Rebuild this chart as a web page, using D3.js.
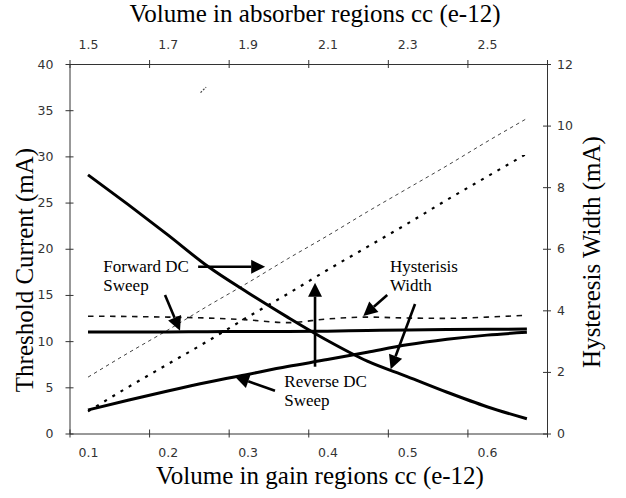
<!DOCTYPE html>
<html>
<head>
<meta charset="utf-8">
<script src="https://d3js.org/d3.v7.min.js"></script>
<style>
  body { margin: 0; background: #fff; }
  svg { display: block; }
  .tick text { font-family: "DejaVu Sans", sans-serif; font-size: 12.5px; fill: #333; }
  .title { font-family: "Liberation Serif", "Times New Roman", serif; font-size: 25px; fill: #000; }
  .note { font-family: "Liberation Serif", "Times New Roman", serif; font-size: 17px; fill: #000; }
</style>
</head>
<body>
<div id="chart"></div>
<script>
// x values: volume in gain regions, cc (e-12)
const gainVolume = [0.10, 0.15, 0.20, 0.25, 0.30, 0.35, 0.40, 0.45, 0.50, 0.55, 0.60, 0.65];

// threshold current (mA), left axis
const forwardFlat   = [10.98, 10.98, 11.00, 11.02, 11.05, 11.05, 11.08, 11.15, 11.20, 11.25, 11.28, 11.30];
const forwardRising = [6.1, 8.7, 11.2, 13.8, 16.3, 18.9, 21.4, 24.0, 26.5, 29.0, 31.6, 34.1];
const reverseSolid  = [2.55, 3.6, 4.6, 5.55, 6.4, 7.25, 8.0, 8.8, 9.6, 10.2, 10.65, 10.95];
const reverseDotted = [2.4, 5.0, 7.5, 10.0, 12.6, 15.1, 17.7, 20.2, 22.7, 25.3, 27.8, 30.3];

// hysteresis width (mA), right axis
const hystSolid  = [8.40, 7.44, 6.45, 5.43, 4.58, 3.78, 3.02, 2.35, 1.85, 1.34, 0.87, 0.48];
const hystDashed = [3.81, 3.80, 3.78, 3.75, 3.69, 3.60, 3.72, 3.78, 3.75, 3.74, 3.78, 3.84];

// small stray stroke near the top
const strayX = [0.241, 0.248];
const strayY = [36.9, 37.5];

// tick labels
const gainTicks = [0.1, 0.2, 0.3, 0.4, 0.5, 0.6];
const absorberTicks = [1.5, 1.7, 1.9, 2.1, 2.3, 2.5];
const currentTicks = [0, 5, 10, 15, 20, 25, 30, 35, 40];
const widthTicks = [0, 2, 4, 6, 8, 10, 12];

const W = 626, H = 498;
const plotLeft = 69.5, plotRight = 547, plotTop = 64, plotBottom = 433.5;

const svg = d3.select("#chart").append("svg")
  .attr("width", W)
  .attr("height", H);

const x = d3.scaleLinear().domain([0.0768, 0.6752]).range([plotLeft, plotRight]);
const xTop = d3.scaleLinear().domain([1.4536, 2.6504]).range([plotLeft, plotRight]);
const y = d3.scaleLinear().domain([0, 40]).range([plotBottom, plotTop]);
const y2 = d3.scaleLinear().domain([0, 12]).range([plotBottom, plotTop]);

// tick marks sit between the labels, evenly spread across the frame
const markX = d3.range(7).map(i => x.domain()[0] + i * (x.domain()[1] - x.domain()[0]) / 6);

function crossTicks(g, horiz) {
  g.selectAll(".tick line")
    .attr(horiz ? "y1" : "x1", -4)
    .attr(horiz ? "y2" : "x2", 4);
  g.select(".domain").attr("stroke", "#333");
  g.selectAll(".tick line").attr("stroke", "#333");
}

// bottom
svg.append("g")
  .attr("transform", `translate(0,${plotBottom})`)
  .call(d3.axisBottom(x).tickValues(markX).tickFormat("").tickSizeOuter(0))
  .call(g => crossTicks(g, true));
svg.append("g")
  .attr("transform", `translate(0,${plotBottom})`)
  .call(d3.axisBottom(x).tickValues(gainTicks).tickFormat(d3.format(".1f")).tickSize(0).tickPadding(14.8))
  .call(g => g.select(".domain").remove());

// top
svg.append("g")
  .attr("transform", `translate(0,${plotTop})`)
  .call(d3.axisTop(x).tickValues(markX).tickFormat("").tickSizeOuter(0))
  .call(g => crossTicks(g, true));
svg.append("g")
  .attr("transform", `translate(0,${plotTop})`)
  .call(d3.axisTop(xTop).tickValues(absorberTicks).tickFormat(d3.format(".1f")).tickSize(0).tickPadding(14.7))
  .call(g => g.select(".domain").remove());

// left
svg.append("g")
  .attr("transform", `translate(${plotLeft},0)`)
  .call(d3.axisLeft(y).tickValues(currentTicks).tickSizeOuter(0).tickPadding(10))
  .call(g => crossTicks(g, false));

// right
svg.append("g")
  .attr("transform", `translate(${plotRight},0)`)
  .call(d3.axisRight(y2).tickValues(widthTicks).tickSizeOuter(0).tickPadding(4))
  .call(g => crossTicks(g, false));

// axis titles
svg.append("text").attr("class", "title")
  .attr("x", 315).attr("y", 21.5).attr("text-anchor", "middle")
  .text("Volume in absorber regions cc (e-12)");
svg.append("text").attr("class", "title")
  .attr("x", 320).attr("y", 484).attr("text-anchor", "middle")
  .text("Volume in gain regions cc (e-12)");
svg.append("text").attr("class", "title")
  .attr("transform", "translate(33,270) rotate(-90)").attr("text-anchor", "middle")
  .text("Threshold Current (mA)");
svg.append("text").attr("class", "title")
  .attr("transform", "translate(600,252) rotate(-90)").attr("text-anchor", "middle")
  .text("Hysteresis Width (mA)");

// series
const series = [
  { vals: forwardRising, scale: y,  width: 1,   dash: "3.5,3.5", color: "#444" },
  { vals: reverseDotted, scale: y,  width: 2.2, dash: "3,6.5", color: "#000" },
  { vals: hystDashed,    scale: y2, width: 1.6, dash: "5.5,5.5", color: "#111" },
  { vals: forwardFlat,   scale: y,  width: 3,   dash: null, color: "#000" },
  { vals: reverseSolid,  scale: y,  width: 3,   dash: null, color: "#000" },
  { vals: hystSolid,     scale: y2, width: 3,   dash: null, color: "#000" }
];

series.forEach(s => {
  const line = d3.line()
    .x((d, i) => x(gainVolume[i]))
    .y(d => s.scale(d))
    .curve(d3.curveMonotoneX);
  svg.append("path")
    .datum(s.vals)
    .attr("d", line)
    .attr("fill", "none")
    .attr("stroke", s.color)
    .attr("stroke-width", s.width)
    .attr("stroke-dasharray", s.dash);
});

svg.append("path")
  .datum(strayX.map((v, i) => [v, strayY[i]]))
  .attr("d", d3.line().x(d => x(d[0])).y(d => y(d[1])))
  .attr("fill", "none").attr("stroke", "#444").attr("stroke-width", 1.2)
  .attr("stroke-dasharray", "2,1.5");

// annotations, in data units (gain volume, threshold current)
const arrows = [
  [[0.238, 18.05], [0.322, 18.05]],
  [[0.1965, 14.99], [0.2153, 11.13]],
  [[0.3343, 4.63], [0.2842, 6.15]],
  [[0.3845, 7.23], [0.3845, 16.32]],
  [[0.475, 14.99], [0.445, 12.72]],
  [[0.5098, 14.02], [0.4793, 6.95]]
];

arrows.forEach(a => {
  const x0 = x(a[0][0]), y0 = y(a[0][1]);
  const x1 = x(a[1][0]), y1 = y(a[1][1]);
  const ang = Math.atan2(y1 - y0, x1 - x0);
  const len = 14, half = 7;
  const bx = x1 - len * Math.cos(ang), by = y1 - len * Math.sin(ang);
  svg.append("line")
    .attr("x1", x0).attr("y1", y0).attr("x2", bx).attr("y2", by)
    .attr("stroke", "#000").attr("stroke-width", 2.6);
  const px = -Math.sin(ang) * half, py = Math.cos(ang) * half;
  svg.append("polygon")
    .attr("points", `${x1},${y1} ${bx + px},${by + py} ${bx - px},${by - py}`)
    .attr("fill", "#000");
});

const notes = [
  { at: [0.1192, 17.52], lines: ["Forward DC", "Sweep"] },
  { at: [0.346, 5.0], lines: ["Reverse DC", "Sweep"] },
  { at: [0.4784, 17.52], lines: ["Hysterisis", "Width"] }
];

notes.forEach(n => {
  const t = svg.append("text").attr("class", "note")
    .attr("x", x(n.at[0])).attr("y", y(n.at[1]));
  n.lines.forEach((l, i) => {
    t.append("tspan").attr("x", x(n.at[0])).attr("dy", i ? 19 : 0).text(l);
  });
});
</script>
</body>
</html>
